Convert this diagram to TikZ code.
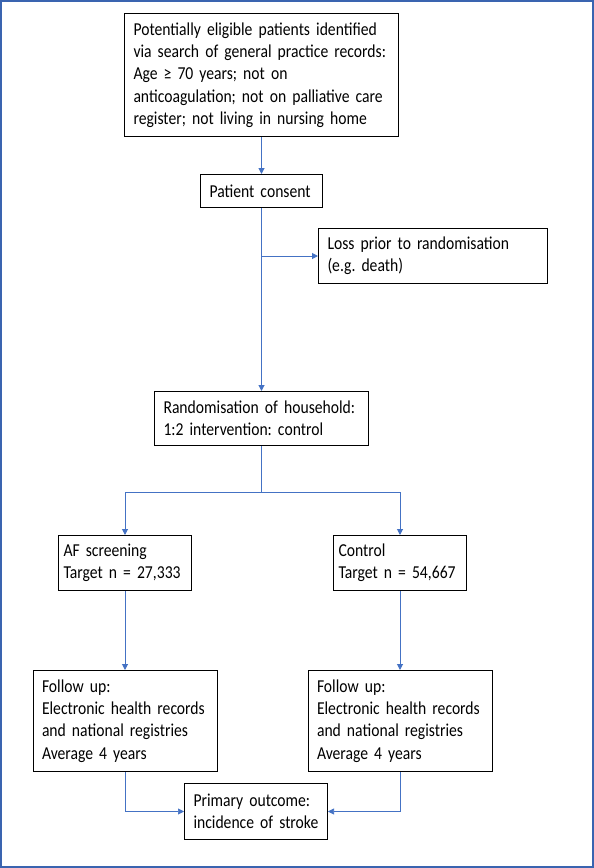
\documentclass[tikz,border=0pt]{standalone}
\usepackage{fontspec}
\setmainfont{Carlito}[FakeStretch=0.86]
\usetikzlibrary{positioning}
\usetikzlibrary{arrows.meta}
\definecolor{linkblue}{HTML}{4472C4}
\definecolor{frameblue}{HTML}{3A64B0}
\frenchspacing

\begin{document}
\begin{tikzpicture}[x=1pt,y=-1pt,
box/.style={draw,line width=1pt,align=left,inner xsep=9pt,inner ysep=3pt,font=\fontsize{18.2}{22.3}\selectfont},
armbox/.style={box,inner xsep=5pt,text width=123pt,minimum height=55pt},
link/.style={draw=linkblue,line width=1pt,-{Triangle[length=6pt,width=6pt]}},
thinlink/.style={link,line width=0.6pt}]

\useasboundingbox (0,0) rectangle (594,868);
\draw[frameblue,line width=1.5pt] (1,1) rectangle (593,867);

\node[box,anchor=north,text width=256pt,minimum height=123pt] (search) at (261.5,13) {Potentially eligible patients identified\\via search of general practice records:\\Age ≥ 70 years; not on\\anticoagulation; not on palliative care\\register; not living in nursing home};
\node[box,below=37pt of search,text width=104pt,minimum height=33pt] (consent) {Patient consent};
\node[box,anchor=north west,text width=211pt,minimum height=55pt] (loss) at (318,228) {Loss prior to randomisation\\(e.g. death)};
\node[box,below=183pt of consent,text width=196pt,minimum height=54pt] (random) {Randomisation of household:\\1:2 intervention: control};

\node[armbox,anchor=north] (afscreen) at (125,535) {AF screening\\Target n = 27,333};
\node[armbox,anchor=north] (control) at (400,535) {Control\\Target n = 54,667};

\node[box,below=79pt of afscreen,text width=166pt,minimum height=101pt] (followa) {Follow up:\\Electronic health records\\and national registries\\Average 4 years};
\node[box,below=79pt of control,text width=166pt,minimum height=101pt] (followb) {Follow up:\\Electronic health records\\and national registries\\Average 4 years};

\node[box,anchor=north,text width=125pt,minimum height=56pt] (outcome) at (256,783) {Primary outcome:\\incidence of stroke};

% main flow
\draw[link] (search) -- (consent);
\draw[link] (consent) -- (random);
\draw[link] (consent.south |- loss.west) -- (loss.west);

% two arms
\draw[draw=linkblue,line width=1pt] (random.south) -- ++(0,46) coordinate (split);
\draw[link] (split) -| (afscreen.north);
\draw[link] (split) -| (control.north);
\draw[link] (afscreen) -- (followa);
\draw[link] (control) -- (followb);

% outcome
\draw[thinlink] (followa.south) |- (outcome.west);
\draw[thinlink] (followb.south) |- (outcome.east);
\end{tikzpicture}
\end{document}
